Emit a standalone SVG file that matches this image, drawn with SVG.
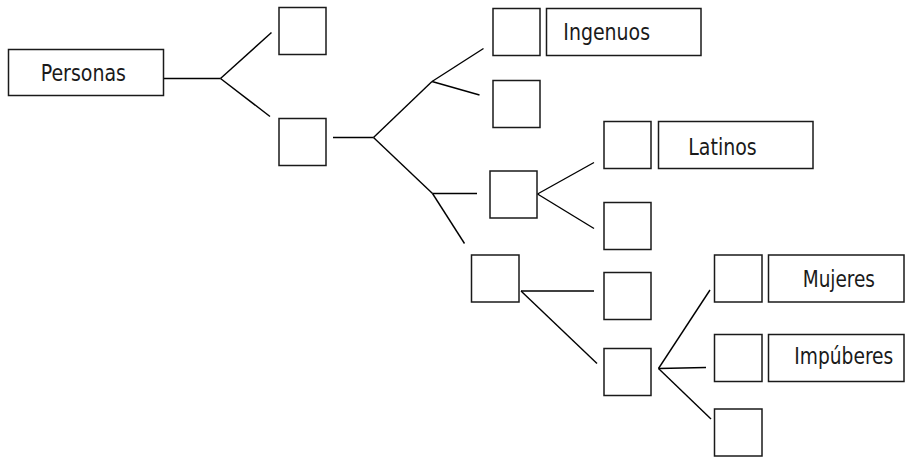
<svg xmlns="http://www.w3.org/2000/svg" width="905" height="457" viewBox="0 0 905 457">
<style>
rect{fill:#fff;stroke:#1a1a1a;stroke-width:1.5}
line{stroke:#000;stroke-width:1.4;stroke-linecap:butt}
text{font-family:"DejaVu Sans Condensed","Liberation Sans",sans-serif;font-size:23.5px;fill:#1a1a1a}
</style>
<rect x="0" y="0" width="905" height="457" style="stroke:none"/>
<g id="connectors">
<line x1="163" y1="78.5" x2="220.5" y2="78.5"/>
<line x1="220.5" y1="78.5" x2="271.5" y2="32.5"/>
<line x1="220.5" y1="78.5" x2="270" y2="116.5"/>
<line x1="333" y1="137.5" x2="373.5" y2="137.5"/>
<line x1="373.5" y1="137.5" x2="432" y2="81.5"/>
<line x1="432" y1="81.5" x2="483.5" y2="48.5"/>
<line x1="432" y1="81.5" x2="479.5" y2="95"/>
<line x1="373.5" y1="137.5" x2="432.5" y2="193.5"/>
<line x1="432.5" y1="193.5" x2="477" y2="193.5"/>
<line x1="432.5" y1="193.5" x2="464.5" y2="243.5"/>
<line x1="537.5" y1="194" x2="594" y2="162.5"/>
<line x1="537.5" y1="194" x2="594" y2="228.5"/>
<line x1="521" y1="291" x2="594" y2="291"/>
<line x1="521" y1="291" x2="597" y2="363.5"/>
<line x1="658.5" y1="368.5" x2="710" y2="290"/>
<line x1="658.5" y1="368.5" x2="706" y2="367.5"/>
<line x1="658.5" y1="368.5" x2="711" y2="419"/>
</g>
<g id="n-personas"><rect x="8.5" y="49.5" width="155" height="46"/><text x="40.7" y="81" textLength="85.3" lengthAdjust="spacingAndGlyphs">Personas</text></g>
<g id="n-b1"><rect x="279" y="7.5" width="47" height="47"/></g>
<g id="n-b2"><rect x="279" y="118.5" width="47" height="47"/></g>
<g id="n-b3"><rect x="493" y="8.5" width="47" height="47"/></g>
<g id="n-ingenuos"><rect x="546.5" y="8.5" width="154.5" height="47"/><text x="563.3" y="40" textLength="86.7" lengthAdjust="spacingAndGlyphs">Ingenuos</text></g>
<g id="n-b4"><rect x="493" y="80.5" width="47" height="47"/></g>
<g id="n-b5"><rect x="490" y="171" width="47" height="47"/></g>
<g id="n-b6"><rect x="604" y="121.5" width="47" height="47"/></g>
<g id="n-latinos"><rect x="658.5" y="121.5" width="154.5" height="47"/><text x="688.3" y="155" textLength="68.4" lengthAdjust="spacingAndGlyphs">Latinos</text></g>
<g id="n-b7"><rect x="604" y="202.5" width="47" height="47"/></g>
<g id="n-b8"><rect x="471.5" y="255" width="47.5" height="47"/></g>
<g id="n-b9"><rect x="604" y="272.5" width="47" height="47"/></g>
<g id="n-b10"><rect x="604" y="348.5" width="47" height="47"/></g>
<g id="n-b11"><rect x="714.5" y="255" width="47.5" height="47"/></g>
<g id="n-mujeres"><rect x="768.5" y="255" width="135.5" height="47"/><text x="802.7" y="286.7" textLength="72.3" lengthAdjust="spacingAndGlyphs">Mujeres</text></g>
<g id="n-b12"><rect x="714.5" y="334.5" width="47.5" height="47"/></g>
<g id="n-impuberes"><rect x="768.5" y="334.5" width="135.5" height="47"/><text x="794.3" y="364.3" textLength="99" lengthAdjust="spacingAndGlyphs">Impúberes</text></g>
<g id="n-b13"><rect x="714.5" y="409" width="47.5" height="47"/></g>
</svg>
